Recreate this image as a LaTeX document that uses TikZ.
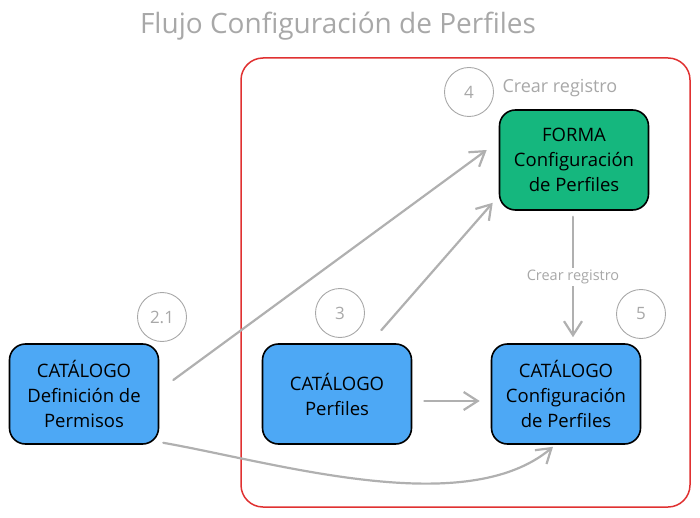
\documentclass[tikz,border=0pt]{standalone}
\usepackage{fontspec}
\setmainfont{Open Sans}
\usetikzlibrary{arrows.meta}
\definecolor{catblue}{HTML}{4DA8F5}
\definecolor{formgreen}{HTML}{15B77E}
\definecolor{framered}{HTML}{E03131}
\definecolor{linegray}{HTML}{B0B0B0}
\definecolor{textgray}{HTML}{A8A8A8}

\begin{document}
\begin{tikzpicture}[x=1pt,y=-1pt,
  catbox/.style={draw=black,line width=1.6pt,fill=catblue,rounded corners=16pt,
    minimum width=149pt,minimum height=100pt,align=center,
    font=\fontsize{18.5}{25}\selectfont},
  formbox/.style={catbox,fill=formgreen},
  stepnum/.style={draw=textgray,line width=0.9pt,circle,minimum size=49pt,
    text=textgray,font=\fontsize{17}{20}\selectfont},
  arr/.style={draw=linegray,line width=2.2pt,line cap=round,
    -{Straight Barb[length=14pt,width=18pt,line width=2.2pt]}}]
\useasboundingbox (0,0) rectangle (700,518);

\node[text=textgray,font=\fontsize{28}{32}\selectfont] (title) at (338,26) {Flujo Configuración de Perfiles};

% marco
\draw[framered,line width=1.5pt,rounded corners=22pt] (241,58) rectangle (690,507);

% cajas
\node[catbox] (defperm) at (84,394) {CATÁLOGO\\Definición de\\Permisos};
\node[catbox] (perfiles) at (337,394) {CATÁLOGO\\Perfiles};
\node[catbox] (confperf) at (566,394) {CATÁLOGO\\Configuración\\de Perfiles};
\node[formbox] (forma) at (574,160) {FORMA\\Configuración\\de Perfiles};

% pasos
\node[stepnum] (paso21) at (162,317) {2.1};
\node[stepnum] (paso3) at (340,313) {3};
\node[stepnum] (paso4) at (469,92) {4};
\node[stepnum] (paso5) at (641,314) {5};
\node[text=textgray,font=\fontsize{18}{20}\selectfont,anchor=west] (crear4) at (499,88) {Crear registro};

% flechas
\draw[arr] ([xshift=14pt,yshift=14pt]defperm.east) -- ([xshift=-12pt,yshift=10pt]forma.west);
\draw[arr] ([xshift=-31pt,yshift=13pt]perfiles.north east) -- ([xshift=-6pt,yshift=8pt]forma.south west);
\draw[arr,shorten <=12pt,shorten >=11pt] ([yshift=-7pt]perfiles.east) -- ([yshift=-7pt]confperf.west);
\draw[arr] ([xshift=4pt,yshift=2pt]defperm.south east) to[out=-10,in=-140,looseness=0.75] ([xshift=-13pt,yshift=-2pt]confperf.south);
\draw[arr,shorten <=6pt,shorten >=6pt] ([xshift=-1pt]forma.south) -- ([xshift=-1pt]forma.south |- confperf.north)
  node[midway,fill=white,text=textgray,font=\fontsize{14.5}{16}\selectfont,inner sep=2pt] (crear5) {Crear registro};
\end{tikzpicture}
\end{document}
